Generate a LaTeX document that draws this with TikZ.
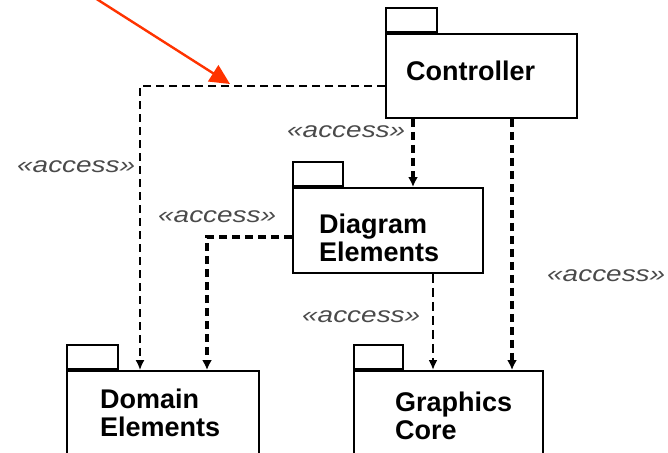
\documentclass[tikz,border=0pt]{standalone}
\usepackage{fontspec}
\setmainfont{Liberation Sans}
\usetikzlibrary{arrows.meta}
\definecolor{redarrow}{HTML}{FF3300}
\definecolor{labgray}{HTML}{4A4A4A}
\begin{document}
\begin{tikzpicture}[x=1pt,y=-1pt,
  pkg/.style={draw, line width=1.8pt, inner sep=0, anchor=north west},
  pkgtab/.style={draw, line width=1.8pt, inner sep=0, anchor=south west, minimum height=24pt},
  title/.style={font=\fontsize{27}{27.5}\selectfont\bfseries, align=left, anchor=base west, inner sep=0},
  lab/.style={font=\fontsize{22}{22}\selectfont\itshape, text=labgray, anchor=base west, inner sep=0},
  thindash/.style={line width=1.6pt, dash pattern=on 8pt off 5pt, -{Latex[length=10pt,width=9pt]}},
  thickdash/.style={line width=3.4pt, dash pattern=on 8pt off 5pt, -{Latex[length=10pt,width=10pt]}},
  middash/.style={line width=2.1pt, dash pattern=on 9pt off 5pt, -{Latex[length=10pt,width=9pt]}}
]
\clip (0,0) rectangle (668,452);
\fill[white] (0,0) rectangle (668,452);

% packages
\node[pkg, minimum width=191pt, minimum height=84pt] (ctrl) at (385,33) {};
\node[pkgtab, minimum width=51pt] (ctrltab) at (ctrl.north west) {};
\node[title] (ctrltxt) at (406,80) {Controller};

\node[pkg, minimum width=190pt, minimum height=85pt] (diag) at (292,187) {};
\node[pkgtab, minimum width=50pt] (diagtab) at (diag.north west) {};
\node[title] (diagtxt) at (319,261) {Diagram\\Elements};

\node[pkg, minimum width=192pt, minimum height=110pt] (dom) at (66,370) {};
\node[pkgtab, minimum width=51pt] (domtab) at (dom.north west) {};
\node[title] (domtxt) at (100,436) {Domain\\Elements};

\node[pkg, minimum width=189pt, minimum height=110pt] (gfx) at (353,370) {};
\node[pkgtab, minimum width=49pt] (gfxtab) at (gfx.north west) {};
\node[title] (gfxtxt) at (395,439) {Graphics\\Core};

% connector coordinates
\coordinate (c1) at (140,86);
\coordinate (c2) at (207,237);
\coordinate (x1) at (413,0);
\coordinate (x2) at (512,0);
\coordinate (x3) at (433,0);

\draw[thindash] (ctrl.west |- c1) -- (c1) -- (c1 |- dom.north);
\draw[thickdash] (ctrl.south -| x1) -- (diag.north -| x1);
\draw[thickdash] (ctrl.south -| x2) -- (gfx.north -| x2);
\draw[thickdash] (diag.west |- c2) -- (c2) -- (c2 |- dom.north);
\draw[middash] (diag.south -| x3) -- (gfx.north -| x3);

% labels
\node[lab] (l1) at (17,172) {\scalebox{1.27}[1]{«access»}};
\node[lab] (l2) at (287,137) {\scalebox{1.27}[1]{«access»}};
\node[lab] (l3) at (158,222) {\scalebox{1.27}[1]{«access»}};
\node[lab] (l4) at (302,322) {\scalebox{1.27}[1]{«access»}};
\node[lab] (l5) at (547,281) {\scalebox{1.27}[1]{«access»}};

% red pointer
\coordinate (rs) at (95,-2);
\coordinate (re) at (230,84);
\draw[redarrow, line width=2.4pt, -{Triangle[length=20pt,width=19pt]}] (rs) -- (re);
\end{tikzpicture}
\end{document}
